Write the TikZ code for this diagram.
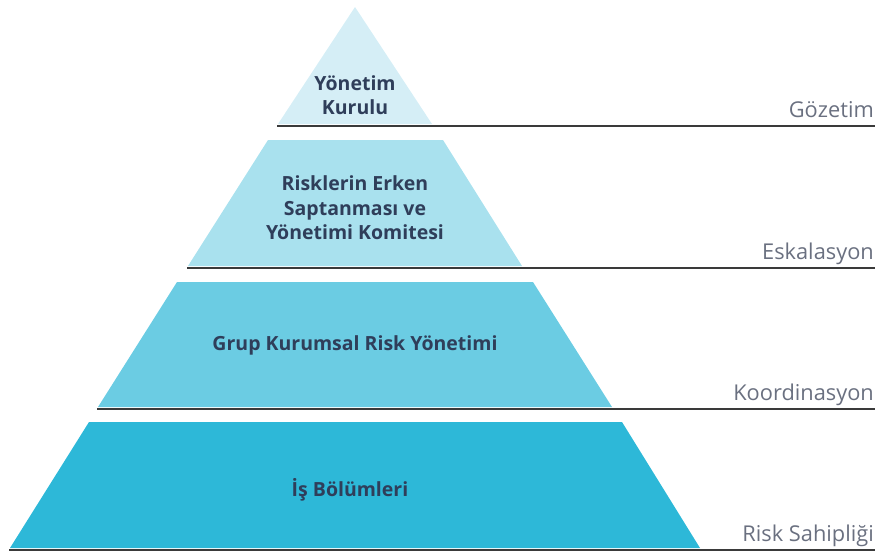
\documentclass[tikz,border=0pt]{standalone}
\usepackage{fontspec}
\setmainfont{Open Sans}
\definecolor{lvA}{HTML}{D5EEF6}
\definecolor{lvB}{HTML}{A9E1EE}
\definecolor{lvC}{HTML}{6BCCE3}
\definecolor{lvD}{HTML}{2DB8D8}
\definecolor{txtdark}{HTML}{2F3E5A}
\definecolor{txtgray}{HTML}{6A7080}
\definecolor{rule}{HTML}{3A3A3A}
\begin{document}
\begin{tikzpicture}[x=1pt,y=-1pt,
  lvtext/.style={font=\fontsize{19.5}{24.5}\selectfont\bfseries, text=txtdark, align=center},
  sidelabel/.style={font=\fontsize{21.8}{24}\selectfont, text=txtgray, anchor=base east, inner sep=0pt},
  baseline rule/.style={draw=rule, line width=1.6pt}]
\useasboundingbox (0,0) rectangle (877,557);
% levels
\fill[lvA] (355,7) -- (432,124) -- (278,124) -- cycle;
\fill[lvB] (268,140) -- (443,140) -- (522,266) -- (188,266) -- cycle;
\fill[lvC] (177,282) -- (533,282) -- (612,407) -- (98,407) -- cycle;
\fill[lvD] (89,422) -- (622,422) -- (700,548) -- (10,548) -- cycle;
% rules
\coordinate (r1a) at (277,126); \coordinate (r1b) at (875,126);
\coordinate (r2a) at (187,268); \coordinate (r2b) at (875,268);
\coordinate (r3a) at (97,409); \coordinate (r3b) at (875,409);
\coordinate (r4a) at (9,550); \coordinate (r4b) at (875,550);
\draw[baseline rule] (r1a) -- (r1b);
\draw[baseline rule] (r2a) -- (r2b);
\draw[baseline rule] (r3a) -- (r3b);
\draw[baseline rule] (r4a) -- (r4b);
% texts
\node[lvtext] (t1) at (355,95) {Yönetim\\Kurulu};
\node[lvtext] (t2) at (355,208) {Risklerin Erken\\Saptanması ve\\Yönetimi Komitesi};
\node[lvtext] (t3) at (355,345) {Grup Kurumsal Risk Yönetimi};
\node[lvtext] (t4) at (350,490) {İş Bölümleri};
% side labels
\node[sidelabel] (s1) at (874,117) {Gözetim};
\node[sidelabel] (s2) at (874,259) {Eskalasyon};
\node[sidelabel] (s3) at (874,400) {Koordinasyon};
\node[sidelabel] (s4) at (874,541) {Risk Sahipliği};
\end{tikzpicture}
\end{document}
